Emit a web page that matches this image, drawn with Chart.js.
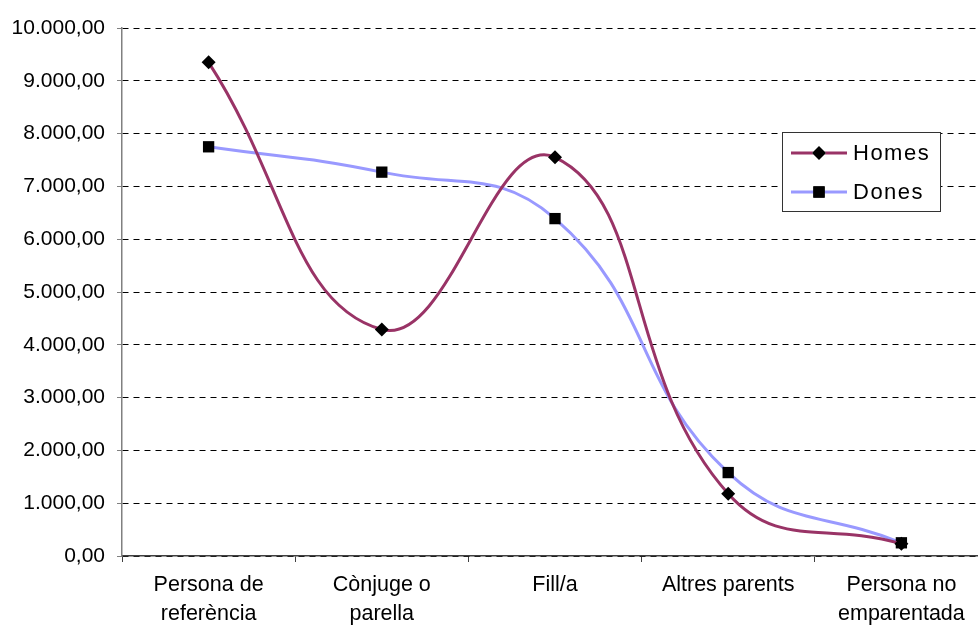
<!DOCTYPE html>
<html>
<head>
<meta charset="utf-8">
<script src="https://cdn.jsdelivr.net/npm/chart.js@4/dist/chart.umd.min.js"></script>
<style>
  html, body { margin: 0; padding: 0; background: #fff; overflow: hidden; }
  #wrap { width: 1000px; height: 626px; }
</style>
</head>
<body>
<div id="wrap"><canvas id="chart"></canvas></div>
<script>
const categories = [['Persona de', 'referència'], ['Cònjuge o', 'parella'], 'Fill/a', 'Altres parents', ['Persona no', 'emparentada']];
const seriesNames = ['Homes', 'Dones'];
const homes = [9350, 4290, 7550, 1180, 230];
const dones = [7750, 7270, 6390, 1580, 250];
const yTicks = [0, 1000, 2000, 3000, 4000, 5000, 6000, 7000, 8000, 9000, 10000];

const FONT = 'Liberation Sans, Arial, sans-serif';

function formatNumber(v) {
    // 10000 -> "10.000,00"
    const parts = Math.round(v).toString().replace(/\B(?=(\d{3})+(?!\d))/g, '.');
    return parts + ',00';
}

// legend drawn inside the plot area, like the original
const boxLegend = {
    id: 'boxLegend',
    afterDraw(chart) {
        const ctx = chart.ctx;
        const x = 782, y = 132, w = 158, h = 79;
        ctx.save();
        ctx.fillStyle = '#fff';
        ctx.fillRect(x, y, w, h);
        ctx.strokeStyle = '#333';
        ctx.lineWidth = 1;
        ctx.strokeRect(x + 0.5, y + 0.5, w, h);
        chart.data.datasets.forEach((ds, i) => {
            const cy = 153 + i * 39;
            ctx.strokeStyle = ds.borderColor;
            ctx.lineWidth = 3;
            ctx.beginPath();
            ctx.moveTo(791, cy);
            ctx.lineTo(847, cy);
            ctx.stroke();
            Chart.helpers.drawPoint(ctx, {
                pointStyle: ds.pointStyle,
                radius: ds.pointRadius,
                borderWidth: 0
            }, 819, cy);
            ctx.fillStyle = '#000';
            ctx.fill();
            ctx.fillStyle = '#000';
            ctx.font = '22px ' + FONT;
            ctx.letterSpacing = '1.5px';
            ctx.textBaseline = 'middle';
            ctx.textAlign = 'left';
            ctx.fillText(ds.label, 853, cy + 1);
            ctx.letterSpacing = '0px';
        });
        ctx.restore();
    }
};

const ctx = document.getElementById('chart').getContext('2d');
new Chart(ctx, {
    type: 'line',
    data: {
        labels: categories,
        datasets: [{
            label: seriesNames[0],
            data: homes,
            borderColor: '#993366',
            borderWidth: 3,
            tension: 0.45,
            pointStyle: 'rectRot',
            pointRadius: 7,
            pointBackgroundColor: '#000',
            pointBorderColor: '#000',
            pointBorderWidth: 0
        }, {
            label: seriesNames[1],
            data: dones,
            borderColor: '#9999FF',
            borderWidth: 3,
            tension: 0.45,
            pointStyle: 'rect',
            pointRadius: 8,
            pointBackgroundColor: '#000',
            pointBorderColor: '#000',
            pointBorderWidth: 0
        }]
    },
    options: {
        responsive: true,
        maintainAspectRatio: false,
        animation: false,
        layout: { padding: { top: 28, right: 12, left: 0, bottom: 0 } },
        plugins: {
            legend: { display: false },
            tooltip: { enabled: false }
        },
        scales: {
            x: {
                offset: true,
                grid: {
                    offset: true,
                    drawOnChartArea: false,
                    drawTicks: true,
                    tickLength: 6,
                    tickColor: '#404040',
                    tickWidth: 1
                },
                border: { color: '#404040', width: 1.5 },
                ticks: {
                    color: '#000',
                    font: { family: FONT, size: 21.5, lineHeight: 1.38 },
                    padding: 8,
                    maxRotation: 0,
                    autoSkip: false
                },
                afterFit(scale) { scale.height = 70; }
            },
            y: {
                min: 0,
                max: 10000,
                afterBuildTicks(scale) {
                    scale.ticks = yTicks.map(v => ({ value: v }));
                },
                grid: {
                    color: '#000',
                    lineWidth: 1,
                    drawTicks: true,
                    tickLength: 5,
                    tickColor: '#808080',
                    tickBorderDash: []
                },
                border: { color: '#808080', width: 1.5, dash: [6, 5] },
                ticks: {
                    color: '#000',
                    font: { family: FONT, size: 21 },
                    padding: 12,
                    callback: v => formatNumber(v)
                },
                afterFit(scale) { scale.width = 122; }
            }
        }
    },
    plugins: [boxLegend]
});
</script>
</body>
</html>
